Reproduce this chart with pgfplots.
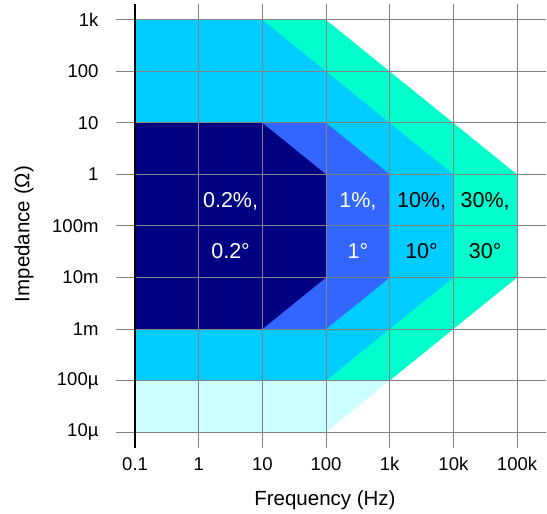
\documentclass[border=0pt]{standalone}
\usepackage{pgfplots}
\pgfplotsset{compat=1.18}
\usepackage{fontspec}
\setmainfont{Liberation Sans}

\definecolor{navyz}{RGB}{0,0,128}
\definecolor{bluez}{RGB}{51,102,255}
\definecolor{cyanz}{RGB}{0,204,255}
\definecolor{greenz}{RGB}{0,255,204}
\definecolor{lightz}{RGB}{204,255,255}
\definecolor{gridz}{RGB}{130,130,130}

\tikzset{band/.style={anchor=base, font=\fontsize{21.5}{25}\selectfont}}

\begin{document}
\begin{tikzpicture}
\begin{axis}[
  width=430pt, height=444pt, scale only axis,
  xmin=-1.3, xmax=5.455, ymin=-5.31, ymax=3.31,
  xtick={-1,0,1,2,3,4,5},
  xticklabels={0.1,1,10,100,1k,10k,100k},
  ytick={-5,-4,-3,-2,-1,0,1,2,3},
  yticklabels={10µ,100µ,1m,10m,100m,1,10,100,1k},
  grid=major,
  major grid style={draw=gridz, line width=1pt},
  axis line style={draw=none},
  major tick length=0pt,
  axis on top,
  ticklabel style={font=\fontsize{18.5}{22}\selectfont},
  xticklabel style={yshift=-6pt},
  yticklabel style={xshift=-14pt},
  xlabel={Frequency (Hz)},
  ylabel={Impedance (Ω)},
  label style={font=\fontsize{20.5}{24}\selectfont},
  xlabel style={at={(axis description cs:0.486,-0.117)}, anchor=center},
  ylabel style={at={(axis description cs:-0.214,0.482)}, anchor=center},
]
% outer bands, drawn back to front
\addplot[fill=lightz, draw=none] coordinates {(-1,-5) (2,-5) (3,-4) (-1,-4)} -- cycle;
\addplot[fill=greenz, draw=none] coordinates {(-1,3) (2,3) (5,0) (5,-2) (3,-4) (-1,-4)} -- cycle;
\addplot[fill=cyanz, draw=none] coordinates {(-1,3) (1,3) (4,0) (4,-2) (2,-4) (-1,-4)} -- cycle;
\addplot[fill=bluez, draw=none] coordinates {(-1,1) (2,1) (3,0) (3,-2) (2,-3) (-1,-3)} -- cycle;
\addplot[fill=navyz, draw=none] coordinates {(-1,1) (1,1) (2,0) (2,-2) (1,-3) (-1,-3)} -- cycle;

\node[band, white] at (axis cs:0.5,-0.64) {0.2\%,};
\node[band, white] at (axis cs:0.5,-1.63) {0.2°};
\node[band, white] at (axis cs:2.5,-0.64) {1\%,};
\node[band, white] at (axis cs:2.5,-1.63) {1°};
\node[band, black] at (axis cs:3.5,-0.64) {10\%,};
\node[band, black] at (axis cs:3.5,-1.63) {10°};
\node[band, black] at (axis cs:4.5,-0.64) {30\%,};
\node[band, black] at (axis cs:4.5,-1.63) {30°};

\coordinate (ltop) at (axis cs:-1,3.31);
\coordinate (lbot) at (axis cs:-1,-5.31);
\end{axis}
\draw[black, line width=1.3pt] (lbot) -- (ltop);
\path ([xshift=-116pt,yshift=-66pt]current axis.south west) rectangle ([xshift=1pt,yshift=4pt]current axis.north east);
\end{tikzpicture}
\end{document}
